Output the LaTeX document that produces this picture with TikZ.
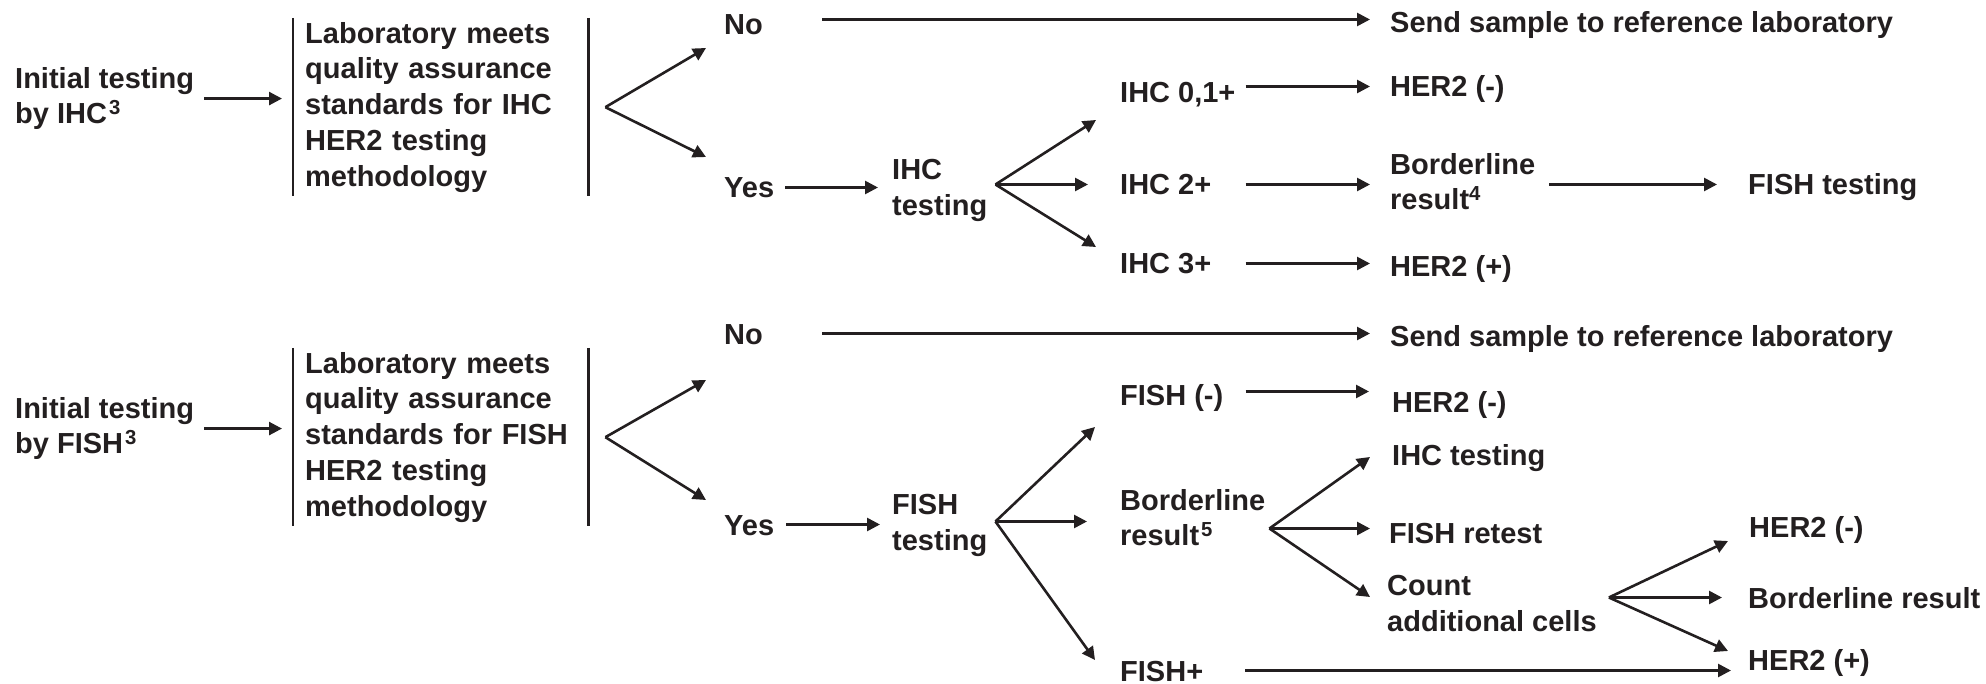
\documentclass[tikz,border=0pt]{standalone}
\usepackage{fontspec}
\setmainfont{Liberation Sans}
\usepackage{xcolor}
\usetikzlibrary{arrows.meta}
\definecolor{ink}{HTML}{231F20}
\tikzset{
  lbl/.style={anchor=west, inner sep=4pt, text height=21pt, text depth=0pt,
              font=\fontsize{29}{35.7}\selectfont\bfseries, text=ink},
  lbls/.style={anchor=north west, inner sep=4pt, align=left,
               font=\fontsize{29}{35.7}\selectfont\bfseries, text=ink},
  qabox/.style={anchor=north west, inner xsep=12pt, inner ysep=4pt,
                text width=271pt, align=left,
                font=\fontsize{29}{35.7}\selectfont\bfseries, text=ink},
  arr/.style={-{Triangle[length=13pt,width=13pt]}, line width=2.6pt, draw=ink},
  bar/.style={line width=2.4pt, draw=ink},
}
\newcommand{\fnref}[1]{\kern2pt\textsuperscript{#1}}

\begin{document}
\begin{tikzpicture}[x=1pt, y=-1pt]
  \useasboundingbox (0,0) rectangle (1986,684);

  % Upper tree: IHC first
  \node[lbls] (ihcin) at (11,63) {Initial testing\\by IHC\fnref{3}};
  \node[qabox] (ihcqa) at (293,18) {Laboratory meets\\quality assurance\\standards for IHC\\HER2 testing\\methodology};
  \node[lbl] (ihcno)  at (720,24.5)  {No};
  \node[lbl] (ihcyes) at (720,187.5) {Yes};
  \node[lbl] (send1)  at (1386,22.5) {Send sample to reference laboratory};
  \node[lbls] (ihctest) at (888,155) {IHC\\testing};

  % IHC scores and outcomes
  \node[lbl] (ihc01) at (1116,92.5)  {IHC 0,1+};
  \node[lbl] (ihc2)  at (1116,184.5) {IHC 2+};
  \node[lbl] (ihc3)  at (1116,263.5) {IHC 3+};
  \node[lbl] (neg1)  at (1386,86.5)  {HER2 (-)};
  \node[lbls] (bord4) at (1386,149)  {Borderline\\result\textsuperscript{4}};
  \node[lbl] (fishtest1) at (1744,184.5) {FISH testing};
  \node[lbl] (pos1)  at (1386,266.5) {HER2 (+)};

  % Lower tree: FISH first
  \node[lbls] (fishin) at (11,393) {Initial testing\\by FISH\fnref{3}};
  \node[qabox] (fishqa) at (293,348) {Laboratory meets\\quality assurance\\standards for FISH\\HER2 testing\\methodology};
  \node[lbl] (fishno)  at (720,334.5)  {No};
  \node[lbl] (fishyes) at (720,524.5)  {Yes};
  \node[lbl] (send2)   at (1386,336.5) {Send sample to reference laboratory};
  \node[lbls] (fishtest) at (888,490) {FISH\\testing};

  % FISH results and outcomes
  \node[lbl] (fishneg) at (1116,394.5) {FISH (-)};
  \node[lbls] (bord5)  at (1116,485)   {Borderline\\result\fnref{5}};
  \node[lbl] (fishpos) at (1116,670.5) {FISH+};
  \node[lbl] (neg2)     at (1388,401.5) {HER2 (-)};
  \node[lbl] (ihctest2) at (1388,454.5) {IHC testing};
  \node[lbl] (retest)   at (1385,532.5) {FISH retest};
  \node[lbls] (count)   at (1383,571)   {Count\\additional cells};
  \node[lbl] (neg3) at (1745,526.5) {HER2 (-)};
  \node[lbl] (bord) at (1744,597.5) {Borderline result};
  \node[lbl] (pos2) at (1744,659.5) {HER2 (+)};

  % Upper arrows
  \draw[arr] ([xshift=6pt]ihcin.east) -- ([xshift=-11pt]ihcin.east -| ihcqa.west);
  \draw[bar] (ihcqa.north west) -- (ihcqa.south west);
  \draw[bar] (ihcqa.north east) -- (ihcqa.south east);
  \coordinate (ihcfork) at ([xshift=17pt]ihcqa.east);
  \draw[arr] (ihcfork) -- ([xshift=-14pt,yshift=-23.5pt]ihcno.west);
  \draw[arr] (ihcfork) -- ([xshift=-14pt,yshift=30.5pt]ihcyes.west);
  \draw[arr] ([xshift=55pt,yshift=3pt]ihcno.east |- send1.west) -- ([xshift=-16pt,yshift=3pt]send1.west);
  \draw[arr] ([xshift=7pt]ihcyes.east) -- ([xshift=-10pt]ihcyes.east -| ihctest.west);
  \coordinate (ihcsplit) at ([xshift=4pt]ihctest.east |- ihc2.west);
  \draw[arr] (ihcsplit) -- ([xshift=-20pt,yshift=-27.5pt]ihc01.west);
  \draw[arr] (ihcsplit) -- ([xshift=-28pt]ihc2.west);
  \draw[arr] (ihcsplit) -- ([xshift=-20pt,yshift=16.5pt]ihc3.west);
  \draw[arr] ([xshift=6pt]ihc01.east |- neg1.west) -- ([xshift=-16pt]neg1.west);
  \draw[arr] ([xshift=6pt]ihc01.east |- ihc2.west) -- ([xshift=-16pt]ihc2.west -| bord4.west);
  \draw[arr] ([xshift=10pt]bord4.east |- fishtest1.west) -- ([xshift=-27pt]fishtest1.west);
  \draw[arr] ([xshift=6pt]ihc01.east |- ihc3.west) -- ([xshift=-16pt]ihc3.west -| pos1.west);

  % Lower arrows
  \draw[arr] ([xshift=6pt]fishin.east) -- ([xshift=-11pt]fishin.east -| fishqa.west);
  \draw[bar] (fishqa.north west) -- (fishqa.south west);
  \draw[bar] (fishqa.north east) -- (fishqa.south east);
  \coordinate (fishfork) at ([xshift=17pt]fishqa.east);
  \draw[arr] (fishfork) -- ([xshift=-14pt,yshift=-45.5pt]fishno.west);
  \draw[arr] (fishfork) -- ([xshift=-14pt,yshift=24.5pt]fishyes.west);
  \draw[arr] ([xshift=55pt,yshift=3pt]fishno.east |- send2.west) -- ([xshift=-16pt,yshift=3pt]send2.west);
  \draw[arr] ([xshift=8pt]fishyes.east) -- ([xshift=-8pt]fishyes.east -| fishtest.west);
  \coordinate (fishsplit) at ([xshift=4pt,yshift=3pt]fishtest.east |- fishyes.west);
  \draw[arr] (fishsplit) -- ([xshift=-21pt,yshift=-32.5pt]fishneg.west);
  \draw[arr] (fishsplit) -- ([xshift=-29pt]fishsplit -| bord5.west);
  \draw[arr] (fishsplit) -- ([xshift=-21pt,yshift=10.5pt]fishpos.west);
  \draw[arr] ([xshift=18pt,yshift=3pt]fishneg.east) -- ([xshift=-19pt,yshift=3pt]fishneg.east -| neg2.west);
  \coordinate (bordsplit) at ([yshift=4pt]bord5.east |- retest.west);
  \draw[arr] (bordsplit) -- ([xshift=-18pt,yshift=-2.5pt]ihctest2.west);
  \draw[arr] (bordsplit) -- ([xshift=-15pt,yshift=4pt]retest.west);
  \draw[arr] (bordsplit) -- ([xshift=-13pt,yshift=-26pt]count.north west);
  \coordinate (countsplit) at ([xshift=8pt]count.east |- bord.west);
  \draw[arr] (countsplit) -- ([xshift=-17pt,yshift=-14.5pt]neg3.west);
  \draw[arr] (countsplit) -- ([xshift=-22pt]bord.west);
  \draw[arr] (countsplit) -- ([xshift=-16pt,yshift=8.5pt]pos2.west);
  \draw[arr] ([xshift=38pt]fishpos.east) -- ([xshift=-13pt]fishpos.east -| pos2.west);
\end{tikzpicture}
\end{document}
